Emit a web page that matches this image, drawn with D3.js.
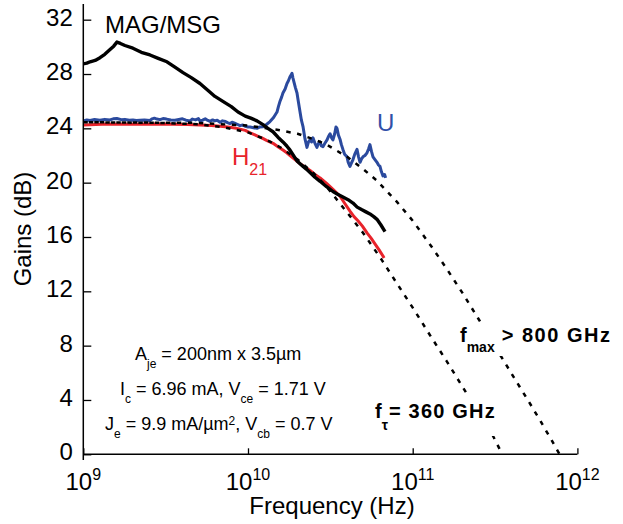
<!DOCTYPE html>
<html><head><meta charset="utf-8">
<script src="https://cdn.jsdelivr.net/npm/d3@7"></script>
<style>
body{margin:0;background:#fff}
svg{display:block}
text{font-family:"Liberation Sans",Arial,sans-serif;white-space:pre}
</style>
</head><body>
<svg id="chart" width="623" height="524"></svg>
<script>
// ---- data (frequency in GHz, gain in dB) ----
const magFreq=[1.0,1.05,1.1,1.18,1.263,1.35,1.453,1.53,1.60,1.68,1.79,2.0,2.25,2.54,2.85,3.22,3.6,4.03,4.5,5.11,5.7,6.3,7.0,7.92,8.7,9.62,10.4,11.34,12.33,13.2,14.18,15.2,16.3,17.2,18.0,19.0,19.84,20.7,21.6,22.6,23.8,25.5,27.4,30.0,32.8,35.0,37.7,40.5,43.4,46.0,49.2,52.0,55,58,60.7,64,67.9];
const magGain=[28.75,28.8,28.9,29.0,29.2,29.45,29.8,30.05,30.35,30.25,30.1,29.9,29.6,29.4,29.15,28.9,28.5,28.1,27.75,27.3,26.8,26.35,26.0,25.6,25.2,24.9,24.75,24.55,24.27,24.0,23.75,23.35,23.0,22.7,22.4,21.95,21.6,21.4,21.2,21.0,20.75,20.4,20.1,19.7,19.35,19.15,18.95,18.75,18.5,18.2,18.0,17.85,17.7,17.5,17.3,16.9,16.4];

const h21Freq=[1.0,1.3,1.7,2.2,2.8,3.5,4.3,5.11,6.0,6.8,7.78,8.7,9.62,10.4,11.34,12.2,13.04,14.2,15.2,16.3,17.2,18.0,19.3,20.7,22.2,23.8,25.5,27.4,30.0,32.8,34.5,36.2,38.8,41.6,44.0,46.5,49.5,52.8,56,59,62.5,66.0,67];
const h21Gain=[24.25,24.3,24.3,24.3,24.32,24.3,24.28,24.25,24.2,24.15,24.08,23.98,23.85,23.65,23.45,23.28,23.1,22.9,22.65,22.4,22.2,22.0,21.7,21.4,21.15,20.9,20.6,20.35,19.95,19.5,19.25,19.0,18.45,17.9,17.5,17.2,16.8,16.3,15.9,15.5,15.05,14.6,14.45];

const uFreq=[1.0,1.05,1.1,1.17,1.26,1.35,1.45,1.52,1.6,1.7,1.79,1.9,2.0,2.1,2.21,2.35,2.54,2.62,2.7,2.8,2.92,3.05,3.2,3.4,3.6,3.8,4.0,4.2,4.44,4.6,4.8,5.0,5.11,5.3,5.5,5.7,5.88,6.1,6.3,6.5,6.76,7.0,7.3,7.5,7.78,8.0,8.3,8.6,8.94,9.3,9.6,10.0,10.3,10.8,11.34,11.8,12.33,13.0,13.6,14.3,15.0,15.3,15.65,16.0,16.3,16.8,17.25,17.6,17.99,18.3,18.5,18.75,19.02,19.4,19.84,20.2,20.7,21.1,21.6,22.2,22.8,23.3,23.8,24.3,24.8,25.5,26.2,26.8,27.4,27.9,28.5,29.3,30.2,30.8,31.5,32.2,32.8,33.6,34.2,34.7,35.4,36.2,36.9,37.7,38.6,39.9,40.6,41.6,42.5,43.4,44.5,45.9,46.9,47.9,48.9,49.9,51.3,52.8,54.0,55.0,56.2,57.4,59.0,60.7,62.0,63.3,64.6,66.0,67.5,68.5];
const uGain=[24.55,24.62,24.58,24.65,24.6,24.66,24.62,24.7,24.72,24.64,24.66,24.6,24.62,24.58,24.6,24.62,24.58,24.7,24.75,24.68,24.64,24.72,24.68,24.62,24.6,24.65,24.7,24.6,24.55,24.68,24.62,24.72,24.55,24.6,24.7,24.58,24.52,24.62,24.55,24.6,24.45,24.55,24.5,24.42,24.35,24.45,24.38,24.3,24.2,24.25,24.15,24.1,24.1,24.05,24.0,24.1,24.12,24.3,24.5,24.8,25.2,25.6,26.0,26.3,26.6,26.9,27.3,27.5,27.8,27.95,28.05,27.7,27.4,27.0,26.6,26.0,25.2,24.6,24.1,23.2,22.6,23.0,23.15,23.0,23.3,22.9,22.6,22.9,23.0,22.7,22.65,22.9,23.15,23.4,23.6,23.3,23.15,23.6,24.1,24.0,23.5,23.2,22.8,22.45,22.1,21.9,21.5,21.2,21.45,21.7,22.1,22.45,21.9,21.5,21.75,21.9,22.0,22.2,22.5,22.8,22.3,21.9,21.7,21.5,21.3,21.2,20.8,20.5,20.6,20.35];

const fitH21Freq=[1,3,5,7,10,13,16,20,25,30,40,50,65,80,100,130,160,200,250,300,350];
const fitH21Gain=[24.45,24.4,24.3,24.1,23.7,23.15,22.55,21.7,20.7,19.7,17.8,16.3,14.3,12.6,10.8,8.6,6.9,5.0,3.1,1.6,0.0];

const fitUFreq=[1,5,10,15,20,25,30,40,50,60,80,100,130,160,200,250,300,400,500,600,700,780];
const fitUGain=[24.45,24.4,24.2,23.9,23.6,23.2,22.8,21.9,21.0,20.2,18.6,17.2,15.3,13.7,11.9,10.0,8.4,5.9,4.0,2.4,1.0,0.0];

const yMajorTicks=[0,4,8,12,16,20,24,28,32];
const xDecades=[1e9,1e10,1e11,1e12];
const xExponents=["9","10","11","12"];

// ---- scales ----
const svg=d3.select("#chart");
const x=d3.scaleLog().domain([1e9,1e12]).range([83.3,577.4]);
const y=d3.scaleLinear().domain([0,33]).range([454.3,6.1]);

const pts=(fs,gs)=>fs.map((f,i)=>[f*1e9,gs[i]]);
const line=d3.line().x(d=>x(d[0])).y(d=>y(d[1]));

// ---- curves ----
svg.append("path").attr("d",line(pts(uFreq,uGain))).attr("fill","none")
  .attr("stroke","#2b4a9e").attr("stroke-width",3).attr("stroke-linejoin","round");
svg.append("path").attr("d",line(pts(h21Freq,h21Gain))).attr("fill","none")
  .attr("stroke","#e8232b").attr("stroke-width",3).attr("stroke-linejoin","round");
svg.append("path").attr("d",line(pts(magFreq,magGain))).attr("fill","none")
  .attr("stroke","#000").attr("stroke-width",3.4).attr("stroke-linejoin","round");
svg.append("path").attr("d",line(pts(fitH21Freq,fitH21Gain))).attr("fill","none")
  .attr("stroke","#000").attr("stroke-width",2.5).attr("stroke-dasharray","4.5,6.5");
svg.append("path").attr("d",line(pts(fitUFreq,fitUGain))).attr("fill","none")
  .attr("stroke","#000").attr("stroke-width",2.5).attr("stroke-dasharray","4.5,6.5").attr("stroke-dashoffset",5.5);

// ---- axes ----
const yMinor=d3.range(0,34).filter(v=>v%4!==0);
const gy=svg.append("g").attr("transform","translate(83.3,0)");
gy.call(d3.axisLeft(y).tickValues(yMinor).tickSize(-5).tickFormat(""));
gy.call(d3.axisLeft(y).tickValues(yMajorTicks).tickSizeInner(-8).tickSizeOuter(0).tickPadding(10.5));
gy.selectAll("path.domain").remove();
gy.selectAll("line").attr("stroke","#000").attr("stroke-width",1.3);
gy.selectAll("text").attr("font-size",24).attr("dy","0.23em").attr("fill","#000")
  .style("font-family","'Liberation Sans',Arial,sans-serif");
svg.append("line").attr("x1",83.3).attr("x2",83.3).attr("y1",4).attr("y2",460)
  .attr("stroke","#000").attr("stroke-width",1.5);

const xMinor=[];
[1e9,1e10,1e11].forEach(d=>{for(let k=2;k<=9;k++) xMinor.push(d*k);});
const gx=svg.append("g").attr("transform","translate(0,454.3)");
gx.call(d3.axisBottom(x).tickValues(xMinor).tickSize(-3.5).tickFormat(""));
gx.call(d3.axisBottom(x).tickValues(xDecades).tickSize(-6).tickFormat(""));
gx.selectAll("path.domain").remove();
gx.selectAll("line").attr("stroke","#000").attr("stroke-width",1.3);
svg.append("line").attr("x1",83.3).attr("x2",577.4).attr("y1",454.3).attr("y2",454.3)
  .attr("stroke","#000").attr("stroke-width",1.5);

xDecades.forEach((d,i)=>{
  const t=svg.append("text").attr("x",x(d)).attr("y",490).attr("text-anchor","middle")
    .attr("font-size",24).attr("fill","#000");
  t.append("tspan").text("10");
  t.append("tspan").attr("font-size",16).attr("dy",-10).text(xExponents[i]);
});

// axis titles
svg.append("text").attr("transform","translate(31,229) rotate(-90)").attr("text-anchor","middle")
  .attr("font-size",24).attr("fill","#000").text("Gains (dB)");
svg.append("text").attr("x",332).attr("y",514).attr("text-anchor","middle")
  .attr("font-size",24).attr("fill","#000").text("Frequency (Hz)");

// series labels
svg.append("text").attr("x",105).attr("y",33).attr("font-size",24).attr("fill","#000").text("MAG/MSG");
svg.append("text").attr("x",377).attr("y",131).attr("font-size",24).attr("fill","#3150a8").text("U");
const h=svg.append("text").attr("x",232).attr("y",165).attr("font-size",24).attr("fill","#e8232b");
h.append("tspan").text("H");
h.append("tspan").attr("font-size",16).attr("dy",10).text("21");

// annotation block
function rich(xp,yp,parts,size){
  const t=svg.append("text").attr("x",xp).attr("y",yp).attr("font-size",size).attr("fill","#000");
  let cur=0;
  parts.forEach(p=>{
    const off=p[1]||0;
    const s=t.append("tspan").text(p[0]).attr("dy",off-cur);
    if(p[2]) s.attr("font-size",p[2]);
    cur=off;
  });
  return t;
}
rich(135,360,[["A"],["je",8,12],[" = 200nm x 3.5\u00b5m",0]],18);
rich(120,395,[["I"],["c",8,12],[" = 6.96 mA, V",0],["ce",8,12],[" = 1.71 V",0]],18);
rich(105,430,[["J"],["e",8,12],[" = 9.9 mA/\u00b5m",0],["2",-5,12],[", V",0],["cb",8,12],[" = 0.7 V",0]],18);

// fit labels (with white background masking the dashed lines)
svg.append("rect").attr("x",455).attr("y",322).attr("width",158).attr("height",34).attr("fill","#fff");
svg.append("rect").attr("x",372).attr("y",397).attr("width",134).attr("height",39).attr("fill","#fff");
const fm=rich(460,342,[["f"],["max",10,14],[" > 800 GHz",0]],20).attr("font-weight","bold");
fm.selectAll("tspan").filter((d,i)=>i===2).attr("letter-spacing",1.5);
const ft=rich(375,418,[["f"],["\u03c4",12,14],["= 360 GHz",0]],20).attr("font-weight","bold");
ft.selectAll("tspan").filter((d,i)=>i===2).attr("letter-spacing",1.2).attr("dx",1);
</script>
</body></html>
